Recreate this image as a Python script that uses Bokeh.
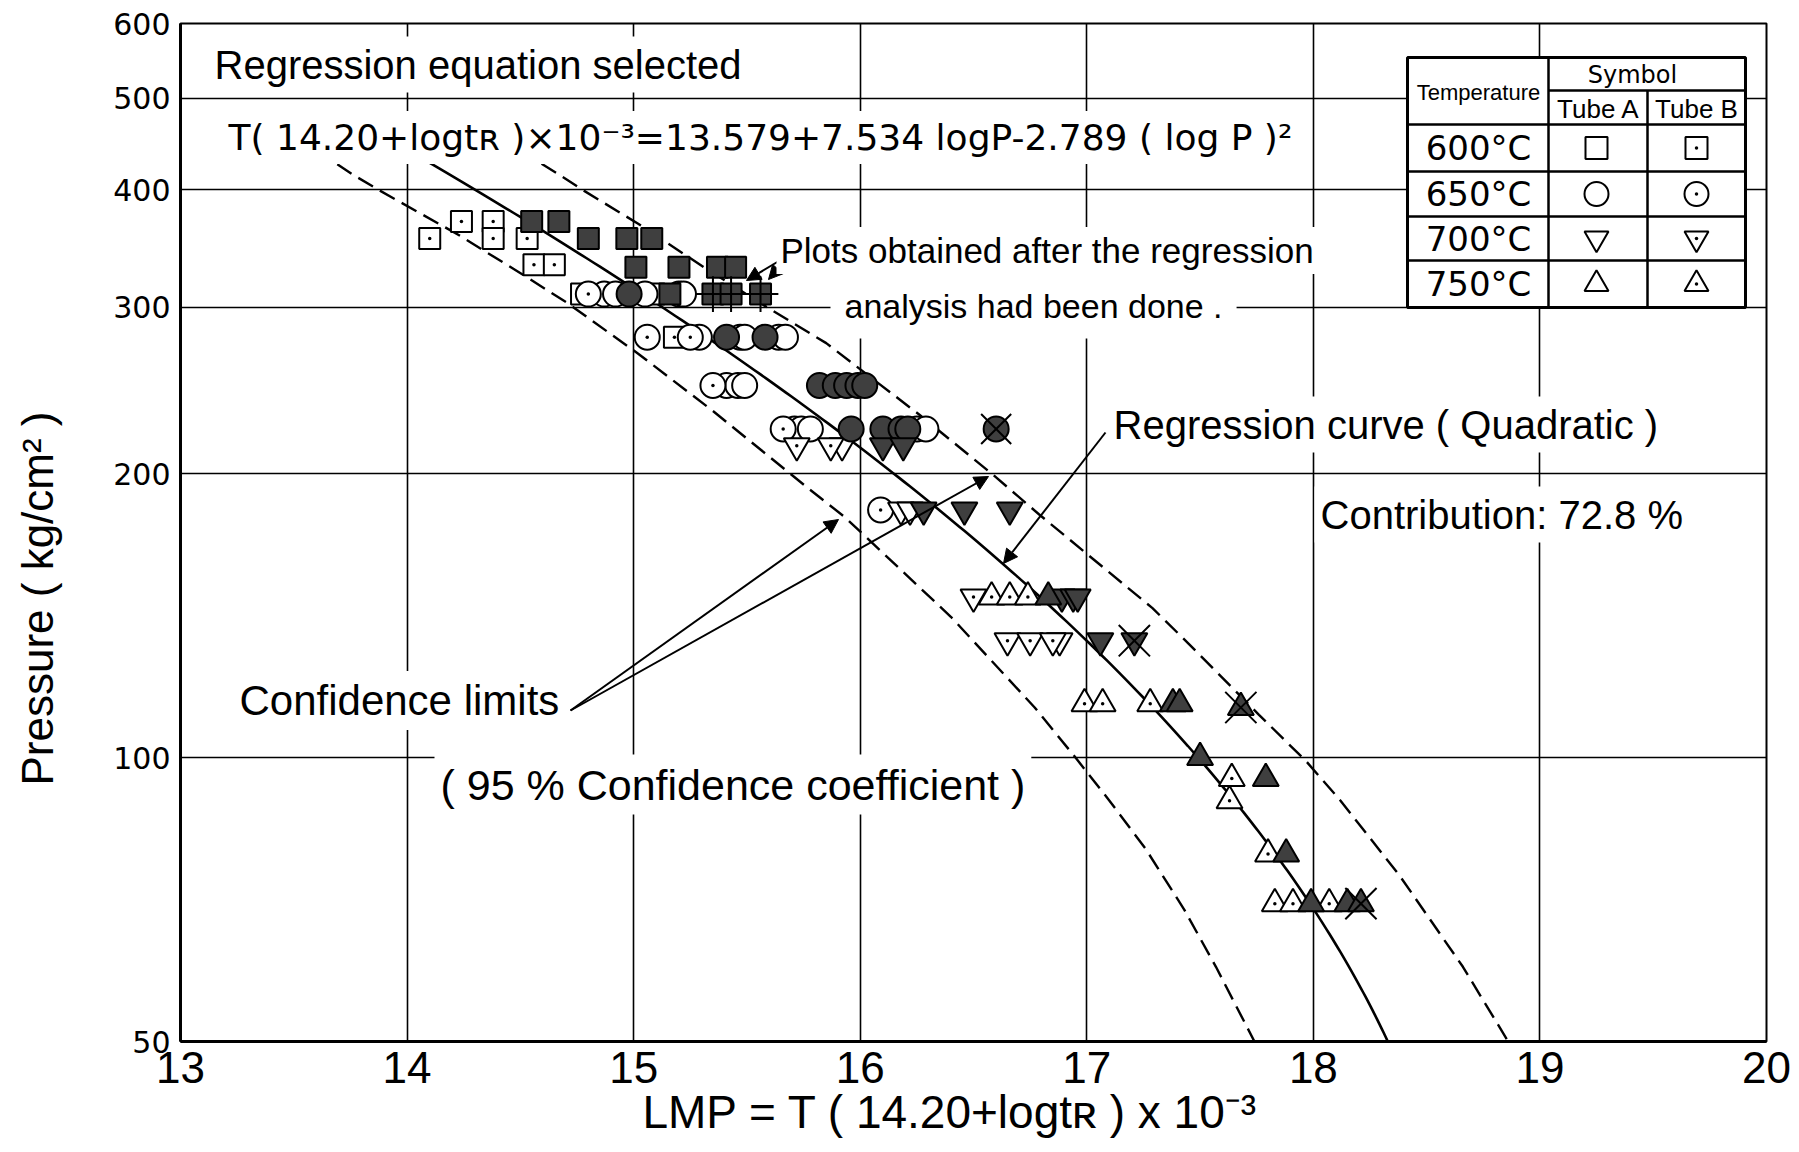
import numpy as np
from bokeh.plotting import figure
from bokeh.models import FixedTicker, PrintfTickFormatter, Label, Arrow, NormalHead
from bokeh.embed import file_html
from bokeh.resources import INLINE

NARROW = "Liberation Sans Narrow, Liberation Sans"
ROUND = "DejaVu Sans"

# ---- axes -------------------------------------------------------------
x_ticks = [13, 14, 15, 16, 17, 18, 19, 20]
y_ticks = [50, 100, 200, 300, 400, 500, 600]

# ---- regression equation: LMP = b0 + b1 logP + b2 (logP)^2 -------------
b0, b1, b2 = 13.579, 7.534, -2.789
reg_p_min, reg_p_max = 50, 440

# ---- 95 % confidence limits ---------------------------------------------
lower_p = [440, 415, 399, 359, 324, 303, 268, 233, 193, 180, 141, 113, 100, 90,
           80, 69, 60, 50]
lower_lmp = [13.60, 13.76, 13.88, 14.22, 14.52, 14.71, 15.02, 15.35, 15.77, 15.93,
             16.40, 16.77, 16.95, 17.10, 17.26, 17.43, 17.57, 17.74]
upper_p = [440, 415, 399, 368, 331, 300, 275, 231, 200, 181, 144, 132, 111, 99,
           90, 75, 60, 50]
upper_lmp = [14.50, 14.67, 14.78, 15.02, 15.31, 15.59, 15.85, 16.26, 16.58, 16.79,
             17.29, 17.45, 17.76, 17.97, 18.12, 18.38, 18.66, 18.86]

# ---- 600 C (squares) -----------------------------------------------------
sq_a_lmp = [15.09]
sq_a_p = [310]
sq_b_lmp = [14.10, 14.24, 14.38, 14.38, 14.53, 14.56, 14.65, 14.77, 15.18]
sq_b_p = [355, 370, 370, 355, 355, 333, 333, 310, 279]
sq_f_lmp = [14.55, 14.67, 14.80, 14.97, 15.08, 15.01, 15.20, 15.37, 15.45, 15.16]
sq_f_p = [370, 370, 355, 355, 355, 331, 331, 331, 331, 310]
sq_x_lmp = [15.35, 15.43, 15.56]
sq_x_p = [310, 310, 310]

# ---- 650 C (circles) -----------------------------------------------------
ci_a_lmp = [14.87, 14.92, 15.05, 15.20, 15.22, 15.29, 15.47, 15.49, 15.64, 15.67,
            15.41, 15.46, 15.49, 15.71, 15.74, 15.78, 16.25, 16.29]
ci_a_p = [310, 310, 310, 310, 310, 279, 279, 279, 279, 279,
          248, 248, 248, 223, 223, 223, 223, 223]
ci_b_lmp = [14.80, 15.06, 15.25, 15.35, 15.66, 16.09]
ci_b_p = [310, 279, 279, 248, 223, 183]
ci_f_lmp = [14.98, 15.41, 15.58, 15.82, 15.89, 15.94, 15.99, 16.02,
            15.96, 16.10, 16.18, 16.21]
ci_f_p = [310, 279, 279, 248, 248, 248, 248, 248, 223, 223, 223, 223]
ci_x_lmp = [16.60]
ci_x_p = [223]

# ---- 700 C (inverted triangles) ------------------------------------------
td_a_lmp = [15.92, 16.18, 16.22, 16.88]
td_a_p = [214, 183, 183, 133]
td_b_lmp = [15.72, 15.87, 16.50, 16.65, 16.75, 16.85]
td_b_p = [214, 214, 148, 133, 133, 133]
td_f_lmp = [16.10, 16.19, 16.28, 16.46, 16.66, 16.89, 16.94, 16.96, 17.06]
td_f_p = [214, 214, 183, 183, 183, 148, 148, 148, 133]
td_x_lmp = [17.21]
td_x_p = [133]

# ---- 750 C (triangles) -----------------------------------------------------
tu_b_lmp = [16.58, 16.66, 16.74, 16.99, 17.07, 17.28, 17.64, 17.63, 17.80,
            17.83, 17.91, 18.07]
tu_b_p = [148, 148, 148, 114, 114, 114, 95, 90, 79, 70, 70, 70]
tu_f_lmp = [16.83, 17.38, 17.41, 17.50, 17.79, 17.88, 17.99, 18.15]
tu_f_p = [148, 114, 114, 100, 95, 79, 70, 70]
tu_x_lmp = [17.68, 18.21]
tu_x_p = [113, 70]

# legend rows
legend_temps = ["600°C", "650°C", "700°C", "750°C"]
legend_markers = ["square", "circle", "inverted_triangle", "triangle"]

# ---- page geometry (pixels) ------------------------------------------------
LEFT, RIGHT, TOP, BOTTOM = 180, 33, 23, 111
FW, FH = 1586, 1018
X0, X1 = 13, 20
Y0, Y1 = 50, 600


def lx(px):
    """page x pixel -> LMP"""
    return X0 + (px - LEFT) / FW * (X1 - X0)


def py_(py):
    """page y pixel -> pressure"""
    return 10 ** (np.log10(Y1) - (py - TOP) / FH * np.log10(Y1 / Y0))


p = figure(frame_width=FW, frame_height=FH, x_range=(X0, X1), y_range=(Y0, Y1),
           y_axis_type="log", output_backend="svg", toolbar_location=None,
           min_border_left=LEFT, min_border_right=RIGHT,
           min_border_top=TOP, min_border_bottom=BOTTOM,
           background_fill_color="white", border_fill_color="white")

p.outline_line_color = "black"
p.outline_line_width = 2

p.xaxis.ticker = FixedTicker(ticks=x_ticks)
p.yaxis.ticker = FixedTicker(ticks=y_ticks)
p.yaxis.formatter = PrintfTickFormatter(format="%d")
for ax in (p.xaxis, p.yaxis):
    ax.axis_line_color = "black"
    ax.axis_line_width = 3
    ax.major_tick_line_color = None
    ax.minor_tick_line_color = None
    ax.major_tick_out = 0
    ax.major_tick_in = 0
    ax.major_label_text_color = "black"
    ax.axis_label_text_color = "black"
    ax.axis_label_text_font_style = "normal"

p.xaxis.major_label_text_font = NARROW
p.xaxis.major_label_text_font_size = "44px"
p.xaxis.major_label_standoff = 10
p.xaxis.axis_label = "LMP = T ( 14.20+logtʀ ) x 10⁻³\u2003"
p.xaxis.axis_label_text_font = NARROW
p.xaxis.axis_label_text_font_size = "46px"
p.xaxis.axis_label_standoff = 0

p.yaxis.major_label_text_font = ROUND
p.yaxis.major_label_text_font_size = "30px"
p.yaxis.major_label_standoff = 10
p.yaxis.axis_label = "Pressure ( kg/cm² )\u2003\u2003\u2003"
p.yaxis.axis_label_text_font = NARROW
p.yaxis.axis_label_text_font_size = "44px"
p.yaxis.axis_label_standoff = 48

for g in (p.xgrid, p.ygrid):
    g.grid_line_color = "black"
    g.grid_line_width = 1.6

# ---- curves ---------------------------------------------------------------
reg_p = np.geomspace(reg_p_min, reg_p_max, 200)
lg = np.log10(reg_p)
reg_lmp = b0 + b1 * lg + b2 * lg ** 2
p.line(reg_lmp, reg_p, line_color="black", line_width=2.6)
p.line(lower_lmp, lower_p, line_color="black", line_width=2.4, line_dash="17 8")
p.line(upper_lmp, upper_p, line_color="black", line_width=2.4, line_dash="17 8")

# ---- markers --------------------------------------------------------------
FILL = "#3f3f3f"
SIZES = {"square": 21, "circle": 25, "inverted_triangle": 26, "triangle": 26}


def series(xs, ys, marker, kind):
    s = SIZES[marker]
    if kind in ("a", "b"):
        p.scatter(xs, ys, marker=marker, size=s, fill_color="white",
                  line_color="black", line_width=2)
        if kind == "b":
            p.scatter(xs, ys, marker="circle", size=3.5, fill_color="black",
                      line_color=None)
    else:
        p.scatter(xs, ys, marker=marker, size=s, fill_color=FILL,
                  line_color="black", line_width=2)
        if kind == "x":
            p.scatter(xs, ys, marker="cross" if marker == "square" else "x",
                      size=s * 1.7, fill_color=None, line_color="black", line_width=2)


series(sq_a_lmp, sq_a_p, "square", "a")
series(sq_b_lmp, sq_b_p, "square", "b")
series(ci_a_lmp, ci_a_p, "circle", "a")
series(ci_b_lmp, ci_b_p, "circle", "b")
series(td_a_lmp, td_a_p, "inverted_triangle", "a")
series(td_b_lmp, td_b_p, "inverted_triangle", "b")
series(tu_b_lmp, tu_b_p, "triangle", "b")
series(sq_f_lmp, sq_f_p, "square", "f")
series(ci_f_lmp, ci_f_p, "circle", "f")
series(td_f_lmp, td_f_p, "inverted_triangle", "f")
series(tu_f_lmp, tu_f_p, "triangle", "f")
series(sq_x_lmp, sq_x_p, "square", "x")
series(ci_x_lmp, ci_x_p, "circle", "x")
series(td_x_lmp, td_x_p, "inverted_triangle", "x")
series(tu_x_lmp, tu_x_p, "triangle", "x")

# ---- annotations ----------------------------------------------------------


def note(px, py, text, size, font=NARROW, align="left", pad=6, bg="white"):
    p.add_layout(Label(x=lx(px), y=py_(py), text=text, text_font=font,
                       text_font_size=size, text_align=align,
                       text_baseline="middle", text_color="black",
                       background_fill_color=bg, padding=pad))


def arrow(x0, y0, x1, y1):
    p.add_layout(Arrow(end=NormalHead(size=14, fill_color="black",
                                      line_color="black", line_width=1),
                       x_start=lx(x0), y_start=py_(y0), x_end=lx(x1), y_end=py_(y1),
                       line_color="black", line_width=2))


arrow(570, 710, 838, 519)
arrow(570, 710, 988, 476)
arrow(1105, 432, 1003, 563)
arrow(781, 259, 746, 280)
arrow(786, 259, 768, 279)

note(208, 64, "Regression equation selected", "40px")
note(222, 137, "T( 14.20+logtʀ )×10⁻³=13.579+7.534 logP-2.789 ( log P )²", "36px",
     font=ROUND)
note(776, 250, "Plots obtained after the regression", "35px", pad=4)
note(830, 305, "analysis had been done .", "34px", pad=14)
note(1107, 424, "Regression curve ( Quadratic )", "40px")
note(1314, 514, "Contribution: 72.8 %", "40px")
note(233, 700, "Confidence limits", "42px")
note(434, 784, "( 95 % Confidence coefficient )", "43px")

# ---- legend table -----------------------------------------------------------
TL, TR, TT, TB = 1407, 1745, 57, 307
C1, C2 = 1548, 1647
HB, SL = 124, 90
rows_y = [124, 171, 216, 260, 307]

p.quad(left=[lx(TL)], right=[lx(TR)], top=[py_(TT)], bottom=[py_(TB)],
       fill_color="white", line_color="black", line_width=3, level="annotation")
seg_x0 = [C1, C2, C1] + [TL] * 4
seg_x1 = [C1, C2, TR] + [TR] * 4
seg_y0 = [TT, SL, SL] + rows_y[:4]
seg_y1 = [TB, TB, SL] + rows_y[:4]
p.segment(x0=[lx(v) for v in seg_x0], x1=[lx(v) for v in seg_x1],
          y0=[py_(v) for v in seg_y0], y1=[py_(v) for v in seg_y1],
          line_color="black", line_width=2.5, level="annotation")

note(1478, 92, "Temperature", "22px", align="center", pad=0, bg=None)
note(1632, 74, "Symbol", "24px", font=ROUND, align="center", pad=0, bg=None)
note(1598, 108, "Tube A", "26px", align="center", pad=0, bg=None)
note(1696, 108, "Tube B", "26px", align="center", pad=0, bg=None)

for i, (t, m) in enumerate(zip(legend_temps, legend_markers)):
    cy = (rows_y[i] + rows_y[i + 1]) / 2
    note(1478, cy, t, "34px", font=ROUND, align="center", pad=0, bg=None)
    for cx, dotted in ((1596, False), (1696, True)):
        p.scatter([lx(cx)], [py_(cy)], marker=m, size=24 if m != "square" else 22,
                  fill_color="white", line_color="black", line_width=2,
                  level="annotation")
        if dotted:
            p.scatter([lx(cx)], [py_(cy)], marker="circle", size=3.5,
                      fill_color="black", line_color=None, level="annotation")

open("out.html", "w").write(file_html(p, INLINE))
